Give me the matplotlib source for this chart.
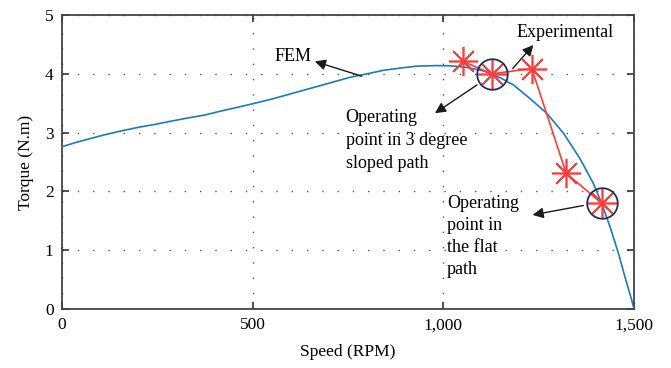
# -*- coding: utf-8 -*-
"""
Torque vs speed: FEM curve and experimental points
"""

import matplotlib.pyplot as plt
import matplotlib.ticker as ticker

# FEM curve
fem_speed = [0, 35, 69, 110, 156, 200, 244, 290, 331, 375, 419, 460, 506, 550, 600,
             650, 700, 755, 800, 843, 890, 930, 983, 1020, 1061, 1105, 1150, 1184,
             1227, 1271, 1315, 1358, 1393, 1415, 1437, 1459, 1476, 1494, 1500]
fem_torque = [2.76, 2.83, 2.89, 2.96, 3.03, 3.09, 3.14, 3.20, 3.25, 3.30, 3.37, 3.43, 3.50, 3.57, 3.66,
              3.75, 3.84, 3.94, 4.00, 4.06, 4.10, 4.13, 4.14, 4.135, 4.11, 4.05, 3.93, 3.81,
              3.58, 3.33, 2.99, 2.56, 2.14, 1.80, 1.40, 0.95, 0.55, 0.15, 0.0]

# experimental points
exp_speed = [1052, 1127, 1232, 1322, 1415]
exp_torque = [4.21, 4.00, 4.09, 2.31, 1.80]

# operating points (circled)
op_speed = [1127, 1415]
op_torque = [4.00, 1.80]

x_ticks = [0, 500, 1000, 1500]
x_tick_labels = ['0', '500', '1,000', '1,500']
y_ticks = [0, 1, 2, 3, 4, 5]

plt.rcParams['font.family'] = ['Liberation Serif', 'DejaVu Serif']

fig = plt.figure(figsize=(6.71, 3.68), dpi=100)
ax = fig.add_axes([0.0924, 0.1603, 0.8525, 0.7989])

ax.plot(fem_speed, fem_torque, color='#1a7bbf', lw=1.2, zorder=3)
ax.plot(exp_speed, exp_torque, color='#ff3b3b', lw=1.2, marker=(8, 2, 0),
        markersize=21, markeredgewidth=1.2, zorder=4)
ax.plot(op_speed, op_torque, ls='none', marker='o', markersize=22,
        markerfacecolor='none', markeredgecolor='#1c2f5e', markeredgewidth=1.3, zorder=5)

arrow = dict(arrowstyle='-|>', color='#1a1a1a', lw=1.0, mutation_scale=16, shrinkA=0, shrinkB=0)
fs = 13
ax.annotate('', xy=(663, 4.21), xytext=(786, 3.96), arrowprops=arrow, zorder=6)
ax.text(655, 4.29, 'FEM', fontsize=fs, ha='right', va='center')

ax.annotate('', xy=(1236, 4.49), xytext=(1182, 4.09), arrowprops=arrow, zorder=6)
ax.text(1192, 4.71, 'Experimental', fontsize=fs, ha='left', va='center')

ax.annotate('', xy=(978, 3.33), xytext=(1088, 3.81), arrowprops=arrow, zorder=6)
ax.text(744, 2.86, 'Operating\npoint in 3 degree\nsloped path', fontsize=fs,
        ha='left', va='center', linespacing=1.45)

ax.annotate('', xy=(1234, 1.60), xytext=(1367, 1.76), arrowprops=arrow, zorder=6)
ax.text(1009, 1.23, 'Operating\npoint in\nthe flat\npath', fontsize=fs,
        ha='left', va='center', linespacing=1.4)

ax.set_xlim(0, 1500)
ax.set_ylim(0, 5)
ax.set_xticks(x_ticks)
ax.xaxis.set_major_formatter(ticker.FixedFormatter(x_tick_labels))
ax.set_yticks(y_ticks)
ax.tick_params(direction='in', length=5, width=1.2, color='#333333',
               labelsize=12.5, top=True, right=True, pad=6)
for s in ax.spines.values():
    s.set_color('#444444')
    s.set_linewidth(1.3)

ax.grid(True, color='#555555', linestyle=(0, (1, 10)), linewidth=1.0)
ax.set_xlabel('Speed (RPM)', fontsize=12.5, labelpad=8)
ax.set_ylabel('Torque (N.m)', fontsize=12.5, labelpad=8)

fig.savefig('out.png', dpi=100)
